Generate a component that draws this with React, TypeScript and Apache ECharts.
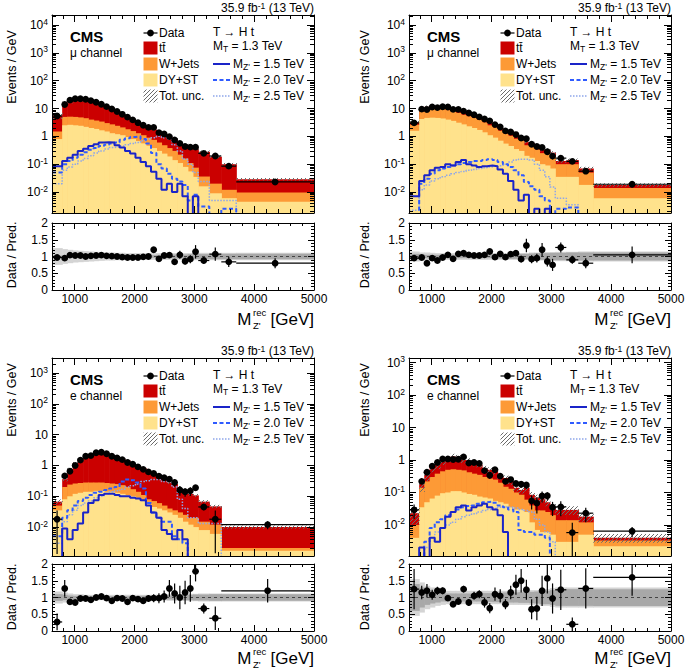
import React, { useEffect, useRef } from 'react';
import * as echarts from 'echarts';

const FONT = '"Liberation Sans", Arial, Helvetica, sans-serif';

// ---------------- binning (GeV) ----------------
const edgesA = [620, 790, 875, 965, 1050, 1140, 1225, 1315, 1400, 1490, 1575, 1665, 1750, 1840, 1925, 2015, 2100, 2190, 2275, 2365, 2450, 2540, 2625, 2715, 2800, 2890, 2975, 3065, 3250, 3450, 3700, 5000];
const edgesB = [620, 790, 875, 965, 1050, 1140, 1225, 1315, 1400, 1490, 1575, 1665, 1750, 1840, 1925, 2015, 2100, 2190, 2275, 2365, 2450, 2540, 2625, 2715, 2800, 2890, 2975, 3065, 3250, 3450, 5000];

const xMajor = [1000, 2000, 3000, 4000, 5000];
const xMinor = [800, 1200, 1400, 1600, 1800, 2200, 2400, 2600, 2800, 3200, 3400, 3600, 3800, 4200, 4400, 4600, 4800];

// ---------------- top-left: mu channel (1) ----------------
const tlData = [5.4, 14, 20, 22.5, 22.5, 21.5, 19.3, 16.8, 14.2, 11.7, 9.6, 7.8, 6.2, 4.9, 3.9, 3.1, 2.5, 2.1, 2.1, 1.36, 1.22, 0.98, 0.74, 0.56, 0.43, 0.41, 0.41, 0.245, 0.197, 0.085, 0.023];
const tlTotal = [5.6, 14.7, 19.2, 21.8, 21.8, 21.5, 18.9, 16.3, 13.7, 11.5, 9.5, 7.8, 6.3, 5.05, 4.0, 3.2, 2.5, 2.1, 1.75, 1.46, 1.18, 0.94, 0.8, 0.58, 0.5, 0.45, 0.36, 0.28, 0.184, 0.1, 0.029];
const tlWDY = [1.5, 5.0, 5.1, 5.0, 4.8, 4.5, 4.0, 3.7, 3.4, 3.0, 2.7, 2.4, 2.1, 1.8, 1.55, 1.3, 1.1, 0.9, 0.75, 0.6, 0.48, 0.38, 0.3, 0.22, 0.16, 0.11, 0.075, 0.036, 0.02, 0.012, 0.0097];
const tlDY = [0.8, 2.5, 2.6, 2.5, 2.4, 2.2, 2.0, 1.85, 1.65, 1.5, 1.3, 1.2, 1.1, 0.95, 0.8, 0.68, 0.56, 0.46, 0.38, 0.3, 0.24, 0.19, 0.14, 0.11, 0.08, 0.055, 0.035, 0.016, 0.009, 0.006, 0.0045];
const tlS15 = [0.085, 0.13, 0.17, 0.22, 0.3, 0.36, 0.45, 0.52, 0.6, 0.62, 0.6, 0.48, 0.4, 0.3, 0.24, 0.17, 0.12, 0.085, 0.054, 0.03, 0.012, 0.02, 0.01, 0.02, 0.007, 0.001, 0.007, 0.001, 0.001, 0.001, 0.001];
const tlS20 = [0.05, 0.1, 0.13, 0.17, 0.22, 0.27, 0.33, 0.38, 0.45, 0.5, 0.55, 0.6, 0.75, 0.85, 0.95, 1.0, 0.8, 0.55, 0.25, 0.1, 0.07, 0.045, 0.03, 0.024, 0.018, 0.005, 0.008, 0.003, 0.001, 0.0025, 0.001];
const tlS25 = [0.02, 0.06, 0.08, 0.1, 0.13, 0.16, 0.2, 0.25, 0.3, 0.35, 0.4, 0.42, 0.45, 0.5, 0.55, 0.6, 0.7, 0.8, 0.9, 1.0, 0.9, 0.8, 0.5, 0.3, 0.15, 0.1, 0.05, 0.024, 0.005, 0.005, 0.001];
const tlRatio = [0.97, 0.95, 1.04, 1.03, 1.03, 1.0, 1.02, 1.03, 1.04, 1.02, 1.01, 1.0, 0.98, 0.97, 0.97, 0.97, 0.99, 1.0, 1.2, 0.93, 1.03, 1.04, 0.84, 1.05, 0.86, 0.92, 1.14, 0.88, 1.07, 0.84, 0.8];
const tlRatioErr = [0.04, 0.03, 0.02, 0.02, 0.02, 0.02, 0.02, 0.02, 0.02, 0.02, 0.02, 0.02, 0.03, 0.03, 0.03, 0.03, 0.04, 0.05, 0.05, 0.06, 0.07, 0.08, 0.08, 0.12, 0.1, 0.12, 0.2, 0.1, 0.2, 0.15, 0.15];
const tlUncOuter = [0.25, 0.22, 0.2, 0.18, 0.17, 0.16, 0.15, 0.14, 0.13, 0.12, 0.12, 0.11, 0.11, 0.1, 0.1, 0.1, 0.1, 0.1, 0.1, 0.1, 0.1, 0.1, 0.1, 0.1, 0.1, 0.1, 0.11, 0.11, 0.11, 0.11, 0.11];
const tlUncInner = [0.03, 0.03, 0.03, 0.03, 0.03, 0.03, 0.03, 0.03, 0.03, 0.03, 0.03, 0.03, 0.03, 0.03, 0.03, 0.04, 0.04, 0.04, 0.04, 0.05, 0.05, 0.05, 0.06, 0.06, 0.06, 0.07, 0.07, 0.07, 0.08, 0.08, 0.08];

// ---------------- top-right: mu channel (2) ----------------
const trData = [3.04, 9.5, 9.2, 11.4, 10.8, 11.6, 11.3, 9.3, 9.3, 8.1, 6.9, 6.0, 5.0, 4.2, 3.6, 2.65, 2.16, 1.57, 1.44, 1.16, 0.87, 0.82, 0.52, 0.43, 0.4, 0.28, 0.195, 0.165, 0.126, 0.056, 0.019];
const trTotal = [3.2, 9.8, 11.5, 12.0, 12.3, 12.0, 10.8, 10.0, 8.6, 7.4, 6.6, 5.8, 4.9, 4.0, 3.1, 2.7, 2.0, 1.6, 1.35, 1.05, 0.95, 0.62, 0.57, 0.45, 0.33, 0.33, 0.26, 0.13, 0.14, 0.07, 0.018];
const trWDY = [2.6, 8.0, 9.5, 10.0, 10.0, 9.8, 8.8, 8.0, 7.0, 6.0, 5.3, 4.6, 3.9, 3.2, 2.5, 2.1, 1.6, 1.25, 1.05, 0.82, 0.72, 0.48, 0.43, 0.34, 0.25, 0.24, 0.19, 0.1, 0.1, 0.05, 0.014];
const trDY = [1.6, 4.2, 4.6, 4.7, 4.6, 4.4, 4.0, 3.6, 3.1, 2.7, 2.3, 2.0, 1.7, 1.4, 1.1, 0.9, 0.7, 0.55, 0.45, 0.35, 0.3, 0.2, 0.17, 0.13, 0.1, 0.09, 0.07, 0.035, 0.035, 0.018, 0.006];
const trS15 = [0.007, 0.025, 0.04, 0.06, 0.075, 0.08, 0.1, 0.09, 0.12, 0.14, 0.1, 0.09, 0.08, 0.085, 0.09, 0.085, 0.065, 0.045, 0.025, 0.012, 0.005, 0.008, 0.0012, 0.0025, 0.0012, 0.0025, 0.0012, 0.001, 0.001, 0.001, 0.001];
const trS20 = [0.001, 0.02, 0.03, 0.045, 0.06, 0.07, 0.08, 0.09, 0.1, 0.11, 0.12, 0.13, 0.13, 0.14, 0.15, 0.14, 0.12, 0.1, 0.08, 0.06, 0.04, 0.023, 0.016, 0.012, 0.007, 0.005, 0.001, 0.0025, 0.0028, 0.001, 0.001];
const trS25 = [0.0022, 0.012, 0.018, 0.025, 0.03, 0.035, 0.04, 0.045, 0.05, 0.055, 0.06, 0.065, 0.07, 0.075, 0.08, 0.085, 0.09, 0.1, 0.12, 0.14, 0.15, 0.15, 0.14, 0.1, 0.06, 0.035, 0.015, 0.006, 0.0035, 0.001, 0.001];
const trRatio = [0.95, 0.97, 0.8, 0.95, 0.88, 0.97, 1.05, 0.93, 1.08, 1.1, 1.05, 1.03, 1.03, 1.05, 1.15, 0.98, 1.08, 0.98, 1.07, 1.1, 0.92, 1.33, 0.92, 0.95, 1.2, 0.85, 0.75, 1.27, 0.9, 0.8, 1.05];
const trRatioErr = [0.05, 0.03, 0.03, 0.03, 0.03, 0.03, 0.03, 0.03, 0.03, 0.03, 0.03, 0.04, 0.04, 0.04, 0.05, 0.05, 0.06, 0.07, 0.08, 0.08, 0.1, 0.2, 0.12, 0.13, 0.2, 0.15, 0.18, 0.15, 0.12, 0.15, 0.25];
const trUncOuter = [0.15, 0.12, 0.12, 0.11, 0.1, 0.1, 0.1, 0.1, 0.1, 0.1, 0.1, 0.1, 0.1, 0.1, 0.1, 0.1, 0.1, 0.1, 0.1, 0.1, 0.1, 0.1, 0.12, 0.12, 0.12, 0.13, 0.13, 0.14, 0.14, 0.15, 0.15];
const trUncInner = [0.08, 0.06, 0.05, 0.05, 0.05, 0.05, 0.05, 0.05, 0.05, 0.05, 0.05, 0.05, 0.05, 0.05, 0.05, 0.06, 0.06, 0.06, 0.07, 0.07, 0.08, 0.08, 0.09, 0.1, 0.1, 0.1, 0.11, 0.11, 0.12, 0.12, 0.12];

// ---------------- bottom-left: e channel (1) ----------------
const blData = [0.018, 0.46, 0.65, 1.0, 1.5, 2.0, 2.1, 2.6, 2.7, 2.4, 2.0, 1.75, 1.55, 1.25, 1.1, 0.9, 0.75, 0.62, 0.55, 0.45, 0.4, 0.36, 0.28, 0.16, 0.14, 0.15, 0.19, 0.045, 0.018, 0.012];
const blTotal = [0.067, 0.36, 0.75, 1.18, 1.55, 2.06, 2.26, 2.6, 2.6, 2.45, 2.2, 1.8, 1.6, 1.45, 1.12, 0.95, 0.83, 0.64, 0.56, 0.46, 0.39, 0.28, 0.25, 0.16, 0.12, 0.12, 0.107, 0.067, 0.047, 0.01];
const blWDY = [0.05, 0.2, 0.24, 0.26, 0.27, 0.28, 0.28, 0.28, 0.28, 0.27, 0.26, 0.25, 0.23, 0.2, 0.17, 0.14, 0.11, 0.08, 0.07, 0.06, 0.05, 0.04, 0.035, 0.03, 0.025, 0.02, 0.02, 0.015, 0.012, 0.0021];
const blDY = [0.035, 0.08, 0.1, 0.12, 0.13, 0.14, 0.14, 0.15, 0.15, 0.14, 0.14, 0.13, 0.12, 0.11, 0.1, 0.09, 0.07, 0.055, 0.045, 0.04, 0.035, 0.03, 0.025, 0.02, 0.015, 0.012, 0.01, 0.008, 0.006, 0.0017];
const blS15 = [0.0008, 0.009, 0.004, 0.008, 0.013, 0.03, 0.06, 0.075, 0.11, 0.12, 0.12, 0.11, 0.1, 0.1, 0.09, 0.085, 0.075, 0.05, 0.03, 0.02, 0.008, 0.006, 0.004, 0.008, 0.004, 0.0008, 0.0008, 0.0008, 0.0008, 0.0008];
const blS20 = [0.005, 0.02, 0.035, 0.05, 0.07, 0.09, 0.11, 0.13, 0.14, 0.16, 0.18, 0.2, 0.3, 0.35, 0.33, 0.28, 0.18, 0.06, 0.03, 0.02, 0.015, 0.015, 0.005, 0.004, 0.003, 0.0008, 0.0008, 0.0008, 0.0008, 0.0008];
const blS25 = [0.003, 0.015, 0.025, 0.035, 0.05, 0.06, 0.07, 0.09, 0.1, 0.12, 0.14, 0.15, 0.17, 0.2, 0.22, 0.25, 0.3, 0.32, 0.35, 0.35, 0.3, 0.3, 0.2, 0.08, 0.04, 0.02, 0.02, 0.013, 0.013, 0.0008];
const blRatio = [0.27, 1.27, 0.87, 0.85, 0.97, 0.97, 0.93, 1.0, 1.03, 0.98, 0.9, 0.98, 0.97, 0.87, 0.98, 0.95, 0.9, 0.97, 0.98, 0.98, 1.03, 1.27, 1.12, 1.0, 1.15, 1.27, 1.78, 0.67, 0.38, 1.2];
const blRatioErr = [0.25, 0.25, 0.07, 0.06, 0.05, 0.04, 0.04, 0.04, 0.04, 0.04, 0.04, 0.05, 0.05, 0.06, 0.07, 0.08, 0.08, 0.1, 0.12, 0.15, 0.18, 0.25, 0.3, 0.35, 0.35, 0.4, 0.3, 0.15, 0.35, 0.35];
const blUncOuter = [0.18, 0.15, 0.12, 0.1, 0.1, 0.08, 0.08, 0.08, 0.08, 0.08, 0.08, 0.08, 0.08, 0.08, 0.08, 0.08, 0.08, 0.08, 0.08, 0.09, 0.09, 0.1, 0.1, 0.1, 0.1, 0.11, 0.11, 0.12, 0.12, 0.12];
const blUncInner = [0.1, 0.08, 0.06, 0.05, 0.04, 0.04, 0.04, 0.04, 0.04, 0.04, 0.04, 0.04, 0.04, 0.04, 0.04, 0.04, 0.05, 0.05, 0.05, 0.06, 0.06, 0.06, 0.07, 0.07, 0.08, 0.08, 0.09, 0.09, 0.1, 0.1];

// ---------------- bottom-right: e channel (2) ----------------
const brData = [0.029, 0.22, 0.42, 0.65, 0.84, 1.08, 1.08, 1.04, 1.06, 1.25, 0.81, 0.84, 0.79, 0.47, 0.34, 0.5, 0.32, 0.22, 0.25, 0.19, 0.18, 0.17, 0.055, 0.047, 0.078, 0.079, 0.035, 0.036, 0.0058, 0.023, 0.0064];
const brTotal = [0.023, 0.19, 0.35, 0.6, 0.7, 0.9, 1.1, 1.3, 1.2, 1.0, 0.95, 0.8, 0.72, 0.55, 0.5, 0.45, 0.3, 0.28, 0.22, 0.14, 0.12, 0.14, 0.085, 0.07, 0.065, 0.05, 0.036, 0.029, 0.029, 0.018, 0.004];
const brWDY = [0.01, 0.14, 0.22, 0.3, 0.38, 0.45, 0.5, 0.52, 0.5, 0.48, 0.42, 0.38, 0.35, 0.3, 0.27, 0.25, 0.2, 0.15, 0.13, 0.1, 0.085, 0.06, 0.04, 0.028, 0.028, 0.025, 0.02, 0.014, 0.014, 0.012, 0.0033];
const brDY = [0.004, 0.035, 0.05, 0.065, 0.08, 0.095, 0.1, 0.11, 0.11, 0.1, 0.09, 0.085, 0.075, 0.07, 0.065, 0.055, 0.05, 0.045, 0.035, 0.03, 0.03, 0.025, 0.012, 0.007, 0.006, 0.006, 0.005, 0.003, 0.003, 0.005, 0.0022];
const brS15 = [0.0008, 0.002, 0.001, 0.004, 0.003, 0.008, 0.018, 0.025, 0.035, 0.04, 0.028, 0.035, 0.04, 0.045, 0.035, 0.03, 0.02, 0.006, 0.0008, 0.0008, 0.0008, 0.0008, 0.0008, 0.0008, 0.0008, 0.0008, 0.0008, 0.0008, 0.0008, 0.0008, 0.0008];
const brS20 = [0.0008, 0.001, 0.003, 0.008, 0.012, 0.015, 0.02, 0.025, 0.03, 0.035, 0.038, 0.04, 0.045, 0.05, 0.052, 0.048, 0.04, 0.035, 0.03, 0.025, 0.007, 0.006, 0.006, 0.005, 0.005, 0.004, 0.0008, 0.0008, 0.0008, 0.0008, 0.0008];
const brS25 = [0.0008, 0.001, 0.002, 0.004, 0.006, 0.008, 0.01, 0.012, 0.015, 0.018, 0.02, 0.022, 0.025, 0.028, 0.03, 0.032, 0.035, 0.036, 0.035, 0.033, 0.03, 0.028, 0.025, 0.015, 0.01, 0.006, 0.003, 0.0008, 0.0008, 0.0008, 0.0008];
const brRatio = [1.25, 1.15, 1.2, 1.08, 1.2, 1.2, 0.98, 0.8, 0.88, 1.25, 0.85, 1.05, 1.1, 0.85, 0.68, 1.1, 1.05, 0.8, 1.15, 1.38, 1.5, 1.23, 0.65, 0.67, 1.2, 1.57, 0.97, 1.23, 0.2, 1.27, 1.6];
const brRatioErr = [0.6, 0.2, 0.2, 0.15, 0.12, 0.1, 0.08, 0.07, 0.08, 0.1, 0.1, 0.12, 0.12, 0.15, 0.15, 0.2, 0.2, 0.15, 0.2, 0.3, 0.35, 0.3, 0.3, 0.35, 0.45, 0.45, 0.45, 0.6, 0.2, 0.6, 0.55];
const brUncOuter = [0.55, 0.45, 0.35, 0.3, 0.25, 0.22, 0.2, 0.2, 0.2, 0.2, 0.2, 0.2, 0.2, 0.2, 0.2, 0.2, 0.2, 0.2, 0.22, 0.22, 0.22, 0.22, 0.22, 0.22, 0.25, 0.25, 0.28, 0.3, 0.3, 0.3, 0.3];
const brUncInner = [0.4, 0.3, 0.22, 0.18, 0.15, 0.12, 0.12, 0.12, 0.12, 0.12, 0.12, 0.12, 0.12, 0.13, 0.13, 0.14, 0.14, 0.15, 0.15, 0.15, 0.16, 0.16, 0.17, 0.18, 0.2, 0.2, 0.22, 0.25, 0.25, 0.25, 0.25];

// ---------------- styling ----------------
const X_MIN = 620;
const X_MAX = 5000;
const C_TT = '#cb0000';
const C_W = '#fd9a36';
const C_DY = '#ffe28c';
const C_S15 = '#1a24c8';
const C_S20 = '#2f5bff';
const C_S25 = '#8ea6ea';
const DASH20 = [4, 2.5];
const DASH25 = [1.5, 1.5];

const panels = [
  { channel: '\u03bc channel', edges: edgesA, data: tlData, total: tlTotal, wdy: tlWDY, dy: tlDY, s15: tlS15, s20: tlS20, s25: tlS25, ratio: tlRatio, err: tlRatioErr, outer: tlUncOuter, inner: tlUncInner, yMin: 0.00176, yMax: 23000, ox: 0, oy: 0, rtop: 223, xt: 319, ytm: 67, ytr: 255, ytx: 12 },
  { channel: '\u03bc channel', edges: edgesA, data: trData, total: trTotal, wdy: trWDY, dy: trDY, s15: trS15, s20: trS20, s25: trS25, ratio: trRatio, err: trRatioErr, outer: trUncOuter, inner: trUncInner, yMin: 0.00176, yMax: 23000, ox: 357, oy: 0, rtop: 223, xt: 319, ytm: 67, ytr: 255, ytx: 365 },
  { channel: 'e channel', edges: edgesB, data: blData, total: blTotal, wdy: blWDY, dy: blDY, s15: blS15, s20: blS20, s25: blS25, ratio: blRatio, err: blRatioErr, outer: blUncOuter, inner: blUncInner, yMin: 0.00115, yMax: 3100, ox: 0, oy: 343, rtop: 564, xt: 658, ytm: 400, ytr: 597, ytx: 12 },
  { channel: 'e channel', edges: edgesA, data: brData, total: brTotal, wdy: brWDY, dy: brDY, s15: brS15, s20: brS20, s25: brS25, ratio: brRatio, err: brRatioErr, outer: brUncOuter, inner: brUncInner, yMin: 0.0011, yMax: 1400, ox: 357, oy: 343, rtop: 564, xt: 658, ytm: 400, ytr: 597, ytx: 365 },
];

const logMinor: number[] = [];
for (let e = -4; e <= 4; e++) {
  for (let m = 2; m <= 9; m++) logMinor.push(Number((m * Math.pow(10, e)).toPrecision(6)));
}

function makeHatch(): string {
  const c = document.createElement('canvas');
  c.width = 4;
  c.height = 4;
  const ctx = c.getContext('2d');
  if (ctx) {
    ctx.strokeStyle = '#6a6a6a';
    ctx.lineWidth = 1;
    ctx.beginPath();
    ctx.moveTo(0, 4);
    ctx.lineTo(4, 0);
    ctx.moveTo(-1, 1);
    ctx.lineTo(1, -1);
    ctx.moveTo(3, 5);
    ctx.lineTo(5, 3);
    ctx.stroke();
  }
  return c.toDataURL();
}

function logLabel(v: number): string {
  const l = Math.log10(v);
  const e = Math.round(l);
  if (Math.abs(l - e) > 1e-3) return '';
  if (e === 0) return '1';
  if (e === 1) return '10';
  return '10{sup|' + e + '}';
}

const AXLINE = { color: '#000', width: 1 };

function xAxisDef(grid: number, pos: string, ticks: number[], len: number, showLine: boolean, labels: boolean) {
  return {
    type: 'value', gridIndex: grid, position: pos, min: X_MIN, max: X_MAX, z: 20,
    axisLine: { show: showLine, onZero: false, lineStyle: AXLINE },
    axisTick: { show: true, inside: true, length: len, customValues: ticks, lineStyle: AXLINE },
    axisLabel: labels
      ? { show: true, customValues: xMajor, color: '#000', fontSize: 12, fontFamily: FONT, margin: 3, formatter: (v: number) => String(v) }
      : { show: false },
    splitLine: { show: false },
    minorTick: { show: false },
  };
}

function yLogDef(grid: number, pos: string, yMin: number, yMax: number, minor: boolean, labels: boolean) {
  return {
    type: 'log', logBase: 10, gridIndex: grid, position: pos, min: yMin, max: yMax, z: 20,
    axisLine: { show: !minor, onZero: false, lineStyle: AXLINE },
    axisTick: minor
      ? { show: true, inside: true, length: 4, customValues: logMinor.filter((v) => v > yMin && v < yMax), lineStyle: AXLINE }
      : { show: true, inside: true, length: 7, lineStyle: AXLINE },
    axisLabel: labels
      ? {
          show: true, formatter: logLabel, color: '#000', fontSize: 12, fontFamily: FONT, margin: 4, lineHeight: 16,
          rich: { sup: { fontSize: 8.5, fontFamily: FONT, color: '#000', verticalAlign: 'top', lineHeight: 9 } },
        }
      : { show: false },
    splitLine: { show: false },
  };
}

function yRatioDef(grid: number, pos: string, labels: boolean) {
  return {
    type: 'value', gridIndex: grid, position: pos, min: 0, max: 2, interval: 0.5, z: 20,
    axisLine: { show: true, onZero: false, lineStyle: AXLINE },
    axisTick: { show: true, inside: true, length: 6, lineStyle: AXLINE },
    minorTick: { show: true, splitNumber: 5, length: 3, lineStyle: AXLINE },
    axisLabel: labels
      ? { show: true, color: '#000', fontSize: 12, fontFamily: FONT, margin: 4, formatter: (v: number) => String(v) }
      : { show: false },
    splitLine: { show: false },
  };
}

function histSeries(edges: number[], vals: number[], fill: any, yFloor: number, xi: number, yi: number, z: number) {
  const n = vals.length;
  return {
    type: 'custom', xAxisIndex: xi, yAxisIndex: yi, clip: true, silent: true, z,
    encode: { x: [0, 1], y: 2 },
    data: vals.map((v, i) => [edges[i], edges[i + 1], v]),
    renderItem: (params: any, api: any) => {
      const a = api.coord([api.value(0), api.value(2)]);
      const b = api.coord([api.value(1), yFloor]);
      const extra = params.dataIndex === n - 1 ? 0 : 0.6;
      return {
        type: 'rect',
        shape: { x: a[0], y: a[1], width: b[0] - a[0] + extra, height: Math.max(0, b[1] - a[1]) },
        style: { fill },
      };
    },
  };
}

function bandSeries(edges: number[], center: number[] | null, unc: number[], fill: any, xi: number, yi: number, z: number) {
  const n = unc.length;
  return {
    type: 'custom', xAxisIndex: xi, yAxisIndex: yi, clip: true, silent: true, z,
    encode: { x: [0, 1], y: 2 },
    data: unc.map((u, i) => [edges[i], edges[i + 1], center ? center[i] : 1, u]),
    renderItem: (params: any, api: any) => {
      const c = api.value(2);
      const u = api.value(3);
      const a = api.coord([api.value(0), c * (1 + u)]);
      const b = api.coord([api.value(1), center ? c * (1 - u) : 1 - u]);
      const extra = params.dataIndex === n - 1 ? 0 : 0.6;
      return {
        type: 'rect',
        shape: { x: a[0], y: a[1], width: b[0] - a[0] + extra, height: Math.max(0, b[1] - a[1]) },
        style: { fill },
      };
    },
  };
}

function stepSeries(edges: number[], vals: number[], color: string, width: number, type: any, xi: number, yi: number) {
  const n = vals.length;
  const pts: number[][] = vals.map((v, i) => [edges[i], v]);
  pts.push([edges[n], vals[n - 1]]);
  return {
    type: 'line', xAxisIndex: xi, yAxisIndex: yi, data: pts, step: 'end', symbol: 'none', showSymbol: false,
    clip: true, silent: true, z: 6,
    lineStyle: { color, width, type },
  };
}

function pointSeries(edges: number[], vals: number[], errs: number[], floor: number, xi: number, yi: number) {
  return {
    type: 'custom', xAxisIndex: xi, yAxisIndex: yi, clip: true, silent: true, z: 10,
    encode: { x: [0, 1], y: 2 },
    data: vals.map((v, i) => [edges[i], edges[i + 1], v, errs[i]]),
    renderItem: (params: any, api: any) => {
      const lo = api.value(0);
      const hi = api.value(1);
      const v = api.value(2);
      const e = api.value(3);
      const xc = (lo + hi) / 2;
      const c = api.coord([xc, v]);
      const l = api.coord([lo, v]);
      const r = api.coord([hi, v]);
      const t = api.coord([xc, v + e]);
      const b = api.coord([xc, Math.max(v - e, floor)]);
      return {
        type: 'group',
        children: [
          { type: 'line', shape: { x1: l[0], y1: c[1], x2: r[0], y2: c[1] }, style: { stroke: '#000', lineWidth: 1.2 } },
          { type: 'line', shape: { x1: c[0], y1: t[1], x2: c[0], y2: b[1] }, style: { stroke: '#000', lineWidth: 1.2 } },
          { type: 'circle', shape: { cx: c[0], cy: c[1], r: 3.4 }, style: { fill: '#000' } },
        ],
      };
    },
  };
}

const RICH = {
  n: { fontSize: 12, fontFamily: FONT, fill: '#000', lineHeight: 14 },
  sub: { fontSize: 8.5, fontFamily: FONT, fill: '#000', lineHeight: 6, verticalAlign: 'bottom' },
  sup: { fontSize: 8.5, fontFamily: FONT, fill: '#000', lineHeight: 6, verticalAlign: 'top' },
};

function txt(x: number, y: number, text: string, o: any = {}) {
  const align = o.align || 'left';
  return {
    type: 'text', x, y, rotation: o.rotation || 0, silent: true, z: 30,
    style: {
      text, fill: '#000', fontSize: o.fontSize || 12, fontFamily: FONT, fontWeight: o.fontWeight || 'normal',
      align, textAlign: align, verticalAlign: 'middle', textVerticalAlign: 'middle',
      rich: o.rich ? RICH : undefined,
    },
  };
}

function buildOption() {
  const hatch: any = { image: makeHatch(), repeat: 'repeat', imageWidth: 4, imageHeight: 4 };
  const grid: any[] = [];
  const xAxis: any[] = [];
  const yAxis: any[] = [];
  const series: any[] = [];
  const graphic: any[] = [];

  panels.forEach((P) => {
    const left = 52 + P.ox;
    const gMain = grid.length;
    grid.push({ left, top: 15 + P.oy, width: 262, height: 198, containLabel: false, outerBoundsMode: 'none' });
    const gRatio = grid.length;
    grid.push({ left, top: P.rtop, width: 262, height: 67, containLabel: false, outerBoundsMode: 'none' });

    const xm = xAxis.length;
    xAxis.push(
      xAxisDef(gMain, 'bottom', xMajor, 7, true, false),
      xAxisDef(gMain, 'bottom', xMinor, 4, false, false),
      xAxisDef(gMain, 'top', xMajor, 7, true, false),
      xAxisDef(gMain, 'top', xMinor, 4, false, false),
    );
    const xr = xAxis.length;
    xAxis.push(
      xAxisDef(gRatio, 'bottom', xMajor, 6, true, true),
      xAxisDef(gRatio, 'bottom', xMinor, 3, false, false),
      xAxisDef(gRatio, 'top', xMajor, 6, true, false),
      xAxisDef(gRatio, 'top', xMinor, 3, false, false),
    );
    const ym = yAxis.length;
    yAxis.push(
      yLogDef(gMain, 'left', P.yMin, P.yMax, false, true),
      yLogDef(gMain, 'left', P.yMin, P.yMax, true, false),
      yLogDef(gMain, 'right', P.yMin, P.yMax, false, false),
      yLogDef(gMain, 'right', P.yMin, P.yMax, true, false),
    );
    const yr = yAxis.length;
    yAxis.push(yRatioDef(gRatio, 'left', true), yRatioDef(gRatio, 'right', false));

    const floor = P.yMin * 0.5;
    // main plot
    series.push(histSeries(P.edges, P.total, C_TT, floor, xm, ym, 2));
    series.push(histSeries(P.edges, P.wdy, C_W, floor, xm, ym, 3));
    series.push(histSeries(P.edges, P.dy, C_DY, floor, xm, ym, 4));
    series.push(bandSeries(P.edges, P.total, P.outer, hatch, xm, ym, 5));
    series.push(stepSeries(P.edges, P.s25, C_S25, 1.5, DASH25, xm, ym));
    series.push(stepSeries(P.edges, P.s20, C_S20, 2, DASH20, xm, ym));
    series.push(stepSeries(P.edges, P.s15, C_S15, 2, 'solid', xm, ym));
    const absErr = P.data.map((d, i) => (d * P.err[i]) / P.ratio[i]);
    series.push(pointSeries(P.edges, P.data, absErr, floor, xm, ym));
    // ratio plot
    series.push(bandSeries(P.edges, null, P.outer, '#d4d4d4', xr, yr, 2));
    series.push(bandSeries(P.edges, null, P.inner, '#a8a8a8', xr, yr, 3));
    series.push({
      type: 'line', xAxisIndex: xr, yAxisIndex: yr, data: [[X_MIN, 1], [X_MAX, 1]], symbol: 'none', silent: true, z: 4,
      lineStyle: { color: '#444', width: 1, type: [3, 3] },
    });
    series.push(pointSeries(P.edges, P.ratio, P.err, -1, xr, yr));

    // ---------- texts & legend ----------
    const ox = P.ox;
    const oy = P.oy;
    graphic.push(txt(314 + ox, 8 + oy, '{n|35.9 fb}{sup|-1}{n| (13 TeV)}', { align: 'right', rich: true }));
    graphic.push(txt(70 + ox, 36 + oy, 'CMS', { fontSize: 15, fontWeight: 'bold' }));
    graphic.push(txt(70 + ox, 53 + oy, P.channel));

    // left legend column
    const lx = 143.5 + ox;
    graphic.push({ type: 'line', silent: true, z: 30, shape: { x1: lx, y1: 33 + oy, x2: lx + 14, y2: 33 + oy }, style: { stroke: '#000', lineWidth: 1.2 } });
    graphic.push({ type: 'circle', silent: true, z: 30, shape: { cx: lx + 7, cy: 33 + oy, r: 3.4 }, style: { fill: '#000' } });
    graphic.push(txt(159 + ox, 33 + oy, 'Data'));
    const boxes: [number, any, string][] = [
      [48, C_TT, 'tt\u0304'],
      [64, C_W, 'W+Jets'],
      [80, C_DY, 'DY+ST'],
      [96, hatch, 'Tot. unc.'],
    ];
    boxes.forEach(([ry, fill, label]) => {
      graphic.push({ type: 'rect', silent: true, z: 30, shape: { x: lx, y: ry - 6.5 + oy, width: 14, height: 13 }, style: { fill } });
      graphic.push(txt(159 + ox, ry + oy, label));
    });

    // right legend column
    graphic.push(txt(213 + ox, 31.5 + oy, 'T \u2192 H t'));
    graphic.push(txt(213 + ox, 46 + oy, '{n|M}{sub|T}{n| = 1.3 TeV}', { rich: true }));
    const sigs: [number, string, number, any, string][] = [
      [64, C_S15, 2, null, '1.5'],
      [80, C_S20, 2, DASH20, '2.0'],
      [96, C_S25, 1.5, DASH25, '2.5'],
    ];
    sigs.forEach(([ry, color, w, dash, m]) => {
      graphic.push({
        type: 'line', silent: true, z: 30,
        shape: { x1: 213 + ox, y1: ry + oy, x2: 230 + ox, y2: ry + oy },
        style: { stroke: color, lineWidth: w, lineDash: dash || undefined },
      });
      graphic.push(txt(233 + ox, ry + oy, "{n|M}{sub|Z'}{n| = " + m + ' TeV}', { rich: true }));
    });

    // axis titles
    graphic.push(txt(P.ytx, P.ytm, 'Events / GeV', { align: 'center', rotation: Math.PI / 2, fontSize: 12.5 }));
    graphic.push(txt(P.ytx, P.ytr, 'Data / Pred.', { align: 'center', rotation: Math.PI / 2, fontSize: 12.5 }));
    graphic.push(txt(251.5 + ox, P.xt, 'M', { align: 'right', fontSize: 17 }));
    graphic.push(txt(253 + ox, P.xt - 7, 'rec', { fontSize: 9.5 }));
    graphic.push(txt(253 + ox, P.xt + 6, "Z'", { fontSize: 9.5 }));
    graphic.push(txt(314 + ox, P.xt, '[GeV]', { align: 'right', fontSize: 17 }));
  });

  return {
    animation: false,
    backgroundColor: '#ffffff',
    textStyle: { fontFamily: FONT },
    grid,
    xAxis,
    yAxis,
    series,
    graphic: { elements: graphic },
  };
}

export default function App() {
  const ref = useRef<HTMLDivElement>(null);
  useEffect(() => {
    if (!ref.current) return;
    const chart = echarts.init(ref.current, undefined, { renderer: 'svg' });
    chart.setOption(buildOption() as any);
    return () => chart.dispose();
  }, []);
  return (
    <div
      ref={ref}
      style={{ position: 'absolute', left: 0, top: 0, width: 685, height: 671, background: '#fff' }}
    />
  );
}
